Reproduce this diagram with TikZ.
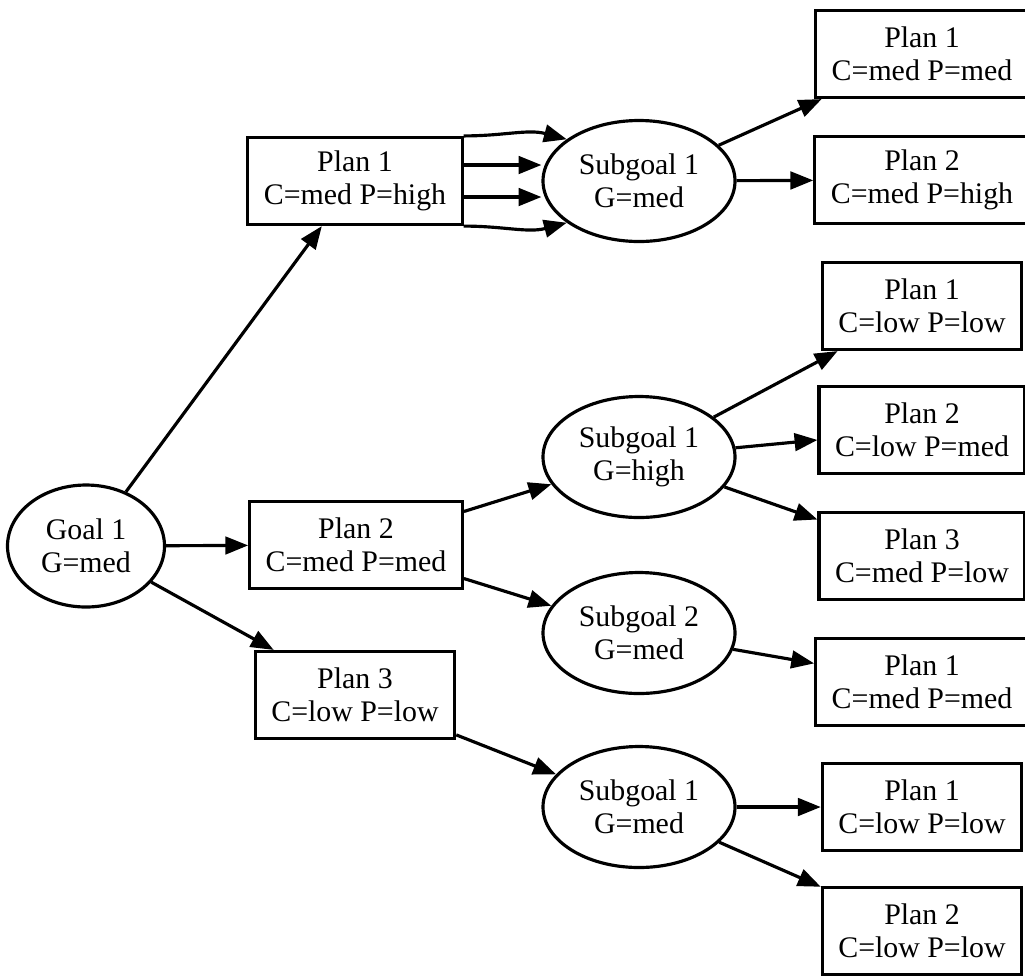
\documentclass[tikz,border=0pt]{standalone}
\usepackage{fontspec}
\setmainfont{Liberation Serif}
\usetikzlibrary{shapes.geometric,arrows.meta}

\begin{document}
\begin{tikzpicture}[
        every node/.style={font=\fontsize{17}{19}\selectfont},
        plan/.style={draw, line width=1.8pt, rectangle, align=center, inner xsep=0.32cm, minimum height=1.74cm},
        goal/.style={draw, line width=1.8pt, ellipse, align=center, inner sep=0pt, minimum width=3.84cm, minimum height=2.42cm},
        link/.style={line width=1.8pt, -{Triangle[length=13pt,width=10pt]}}]
        \useasboundingbox (0,0) rectangle (20.5,-19.5);
        % goal and its plans
        \node[goal, minimum width=3.14cm, minimum height=2.44cm](g) at (1.72,-10.92) {Goal 1\\G=med};
        \node[plan](p1) at (7.1,-3.62) {Plan 1\\C=med P=high};
        \node[plan](p2) at (7.12,-10.9) {Plan 2\\C=med P=med};
        \node[plan](p3) at (7.1,-13.9) {Plan 3\\C=low P=low};
        % subgoals
        \node[goal](s1) at (12.78,-3.62) {Subgoal 1\\G=med};
        \node[goal](s2) at (12.78,-9.14) {Subgoal 1\\G=high};
        \node[goal](s3) at (12.78,-12.66) {Subgoal 2\\G=med};
        \node[goal](s4) at (12.78,-16.14) {Subgoal 1\\G=med};
        % plans of the subgoals
        \node[plan](a) at (18.44,-1.08) {Plan 1\\C=med P=med};
        \node[plan](b) at (18.44,-3.6) {Plan 2\\C=med P=high};
        \node[plan](c) at (18.44,-6.12) {Plan 1\\C=low P=low};
        \node[plan](d) at (18.44,-8.6) {Plan 2\\C=low P=med};
        \node[plan](e) at (18.44,-11.12) {Plan 3\\C=med P=low};
        \node[plan](f) at (18.44,-13.64) {Plan 1\\C=med P=med};
        \node[plan](h) at (18.44,-16.14) {Plan 1\\C=low P=low};
        \node[plan](k) at (18.44,-18.62) {Plan 2\\C=low P=low};
        \draw[link](g)--(p1);
        \draw[link](g)--(p2);
        \draw[link](g)--(p3);
        \draw[link](p1.north east) to[out=0, in=165] (s1.150);
        \draw[link]([yshift=0.32cm]p1.east)--([yshift=0.32cm]p1.east -| s1.west);
        \draw[link]([yshift=-0.32cm]p1.east)--([yshift=-0.32cm]p1.east -| s1.west);
        \draw[link](p1.south east) to[out=0, in=195] (s1.210);
        \draw[link](p2)--(s2);
        \draw[link](p2)--(s3);
        \draw[link](p3)--(s4);
        \draw[link](s1)--(a);
        \draw[link](s1)--(b);
        \draw[link](s2)--(c);
        \draw[link](s2)--(d);
        \draw[link](s2)--(e);
        \draw[link](s3)--(f);
        \draw[link](s4)--(h);
        \draw[link](s4)--(k);
\end{tikzpicture}
\end{document}
